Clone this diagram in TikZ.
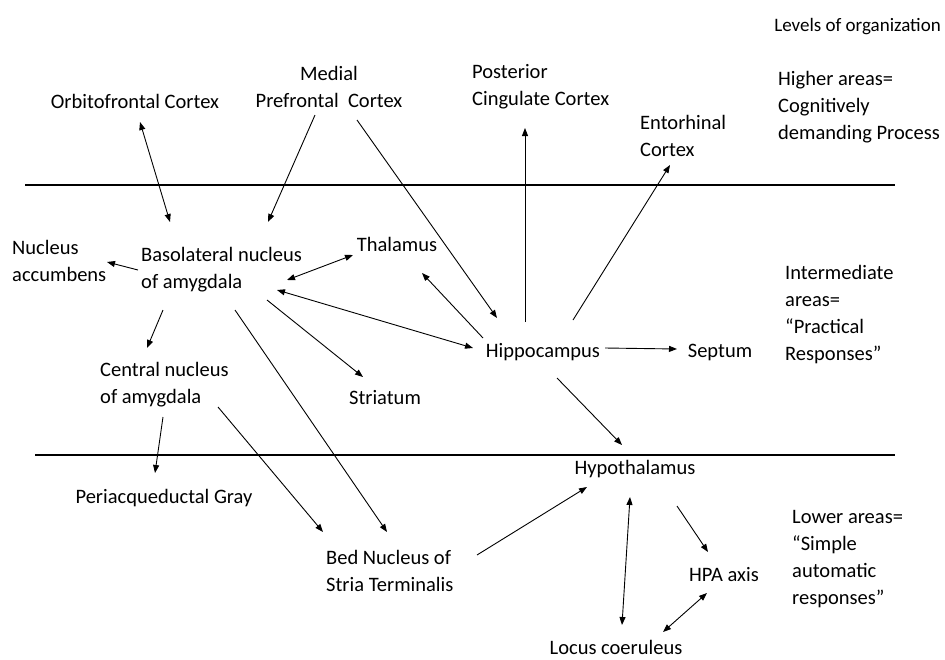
\documentclass[tikz,border=0pt]{standalone}
\usepackage{fontspec}
\setmainfont{Carlito}
\usetikzlibrary{arrows.meta,calc}
\begin{document}
\begin{tikzpicture}[x=1pt,y=-1pt,
  lbl/.style={inner sep=0pt,font=\fontsize{20.5}{27}\selectfont},
  lblL/.style={lbl,anchor=west,align=left},
  arr/.style={line width=0.9pt,-{Triangle[length=8pt,width=6pt]}},
  darr/.style={line width=0.9pt,{Triangle[length=8pt,width=6pt]}-{Triangle[length=8pt,width=6pt]}},
  level/.style={line width=1.1pt}]
\useasboundingbox (0,0) rectangle (945,659);
% level separators
\coordinate (t1) at (25,185);  \coordinate (t2) at (895,185);
\coordinate (b1) at (35,455);  \coordinate (b2) at (895,455);
\draw[level] (t1) -- (t2);
\draw[level] (b1) -- (b2);
% nodes
\node[lbl,anchor=east,font=\fontsize{19}{24}\selectfont] (levels) at (941,27) {Levels of organization};
\node[lbl] (ofc) at (135,101) {Orbitofrontal Cortex};
\node[lbl,align=center] (mpfc) at (329,87) {Medial\\Prefrontal\ \ Cortex};
\node[lblL] (pcc) at (472,87) {Posterior\\Cingulate Cortex};
\node[lblL] (ent) at (640,136) {Entorhinal\\Cortex};
\node[lblL] (higher) at (778,107) {Higher areas=\\Cognitively\\demanding Process};
\node[lblL] (nacc) at (12,261) {Nucleus\\accumbens};
\node[lblL] (bla) at (141,270) {Basolateral nucleus\\of amygdala};
\node[lbl] (thal) at (397,244) {Thalamus};
\node[lblL] (inter) at (785,315) {Intermediate\\areas=\\“Practical\\Responses”};
\node[lbl] (hip) at (543,352) {Hippocampus};
\node[lbl] (sept) at (720,352) {Septum};
\node[lblL] (cea) at (100,385) {Central nucleus\\of amygdala};
\node[lbl] (str) at (385,398) {Striatum};
\node[lbl] (hyp) at (635,469) {Hypothalamus};
\node[lbl] (pag) at (164,498) {Periacqueductal Gray};
\node[lblL] (bnst) at (326,571) {Bed Nucleus of\\Stria Terminalis};
\node[lblL] (lower) at (792,559) {Lower areas=\\“Simple\\automatic\\responses”};
\node[lbl] (hpa) at (724,575) {HPA axis};
\node[lbl] (lc) at (616,647) {Locus coeruleus};
% connectors
\draw[darr] ($(ofc)+(5,21)$) -- ($(bla.west)+(29,-48)$);
\draw[arr] ($(mpfc)+(-14,28)$) -- ($(bla.west)+(127,-48)$);
\draw[arr] ($(mpfc)+(28,33)$) -- ($(hip)+(-46,-34)$);
\draw[arr] ($(hip)+(-18,-30)$) -- ($(pcc.west)+(53,41)$);
\draw[arr] ($(hip)+(30,-32)$) -- ($(ent.west)+(30,29)$);
\draw[darr] ($(bla.west)+(146,10)$) -- ($(thal)+(-44,11)$);
\draw[arr] ($(hip)+(-60,-14)$) -- ($(thal)+(25,29)$);
\draw[darr] ($(hip)+(-70,-4)$) -- ($(bla.west)+(136,20)$);
\draw[arr] ($(bla.west)+(-3,0)$) -- ($(nacc.west)+(95,1)$);
\draw[arr] ($(bla.west)+(22,40)$) -- ($(cea.west)+(47,-37)$);
\draw[arr] ($(bla.west)+(126,30)$) -- ($(str)+(-22,-21)$);
\draw[arr] ($(bla.west)+(94,40)$) -- ($(bnst.west)+(61,-39)$);
\draw[arr] ($(cea.west)+(63,32)$) -- ($(pag)+(-9,-25)$);
\draw[arr] ($(cea.west)+(118,22)$) -- ($(bnst.west)+(-3,-39)$);
\draw[arr] ($(hip)+(62,-4)$) -- ($(sept)+(-43,-3)$);
\draw[arr] ($(hip)+(14,26)$) -- ($(hyp)+(-13,-24)$);
\draw[arr] ($(bnst.west)+(151,-16)$) -- ($(hyp)+(-48,18)$);
\draw[darr] ($(hyp)+(-5,28)$) -- ($(lc)+(6,-22)$);
\draw[arr] ($(hyp)+(42,37)$) -- ($(hpa)+(-16,-23)$);
\draw[darr] ($(hpa)+(-17,18)$) -- ($(lc)+(47,-15)$);
\end{tikzpicture}
\end{document}
